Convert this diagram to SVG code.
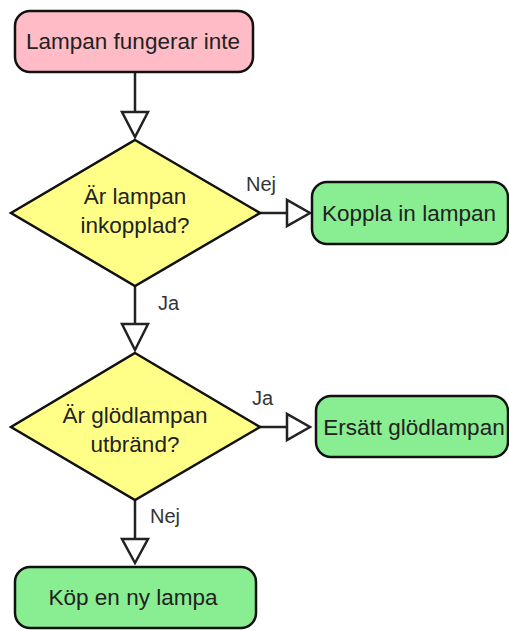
<svg xmlns="http://www.w3.org/2000/svg" width="509" height="631" viewBox="0 0 509 631">
<style>
.box{stroke:#111;stroke-width:2.5}
.start{fill:#ffbcc6}
.end{fill:#89ee91}
.dec{fill:#ffff88;stroke:#111;stroke-width:2.5;stroke-linejoin:miter}
.t{font-family:"Liberation Sans",Arial,sans-serif;font-size:22.5px;fill:#222;text-anchor:middle}
.l{font-family:"Liberation Sans",Arial,sans-serif;font-size:20px;fill:#333}
.c{stroke:#222;stroke-width:2.5;fill:none}
.ah{fill:#fff;stroke:#222;stroke-width:2.5;stroke-linejoin:miter}
</style>
<g id="connectors">
<line class="c" x1="135" y1="72" x2="135" y2="112"/>
<polygon class="ah" points="122,112 148,112 135,137"/>
<line class="c" x1="260" y1="213" x2="287" y2="213"/>
<polygon class="ah" points="287,200 287,226 310,213"/>
<text class="l" x="246" y="191">Nej</text>
<line class="c" x1="135" y1="286" x2="135" y2="324"/>
<polygon class="ah" points="122,324 148,324 135,350"/>
<text class="l" x="158" y="310">Ja</text>
<line class="c" x1="260" y1="427" x2="287" y2="427"/>
<polygon class="ah" points="287,414 287,440 310,427"/>
<text class="l" x="252" y="405">Ja</text>
<line class="c" x1="135" y1="500" x2="135" y2="539"/>
<polygon class="ah" points="122,539 148,539 135,563"/>
<text class="l" x="150" y="523">Nej</text>
</g>
<g id="n1">
<rect class="box start" x="15" y="11" width="238" height="61" rx="15"/>
<text class="t" x="133" y="49">Lampan fungerar inte</text>
</g>
<g id="n2">
<polygon class="dec" points="135,140 260,213 135,286 11,213"/>
<text class="t" x="135" y="204">Är lampan</text>
<text class="t" x="135" y="233">inkopplad?</text>
</g>
<g id="n3">
<rect class="box end" x="312" y="182" width="196" height="62" rx="15"/>
<text class="t" x="409" y="221">Koppla in lampan</text>
</g>
<g id="n4">
<polygon class="dec" points="135,353 260,427 135,500 11,427"/>
<text class="t" x="135" y="423">Är glödlampan</text>
<text class="t" x="135" y="452">utbränd?</text>
</g>
<g id="n5">
<rect class="box end" x="316" y="396" width="192" height="61" rx="15"/>
<text class="t" x="414" y="435">Ersätt glödlampan</text>
</g>
<g id="n6">
<rect class="box end" x="15" y="567" width="241" height="61" rx="15"/>
<text class="t" x="133" y="605">Köp en ny lampa</text>
</g>
</svg>
